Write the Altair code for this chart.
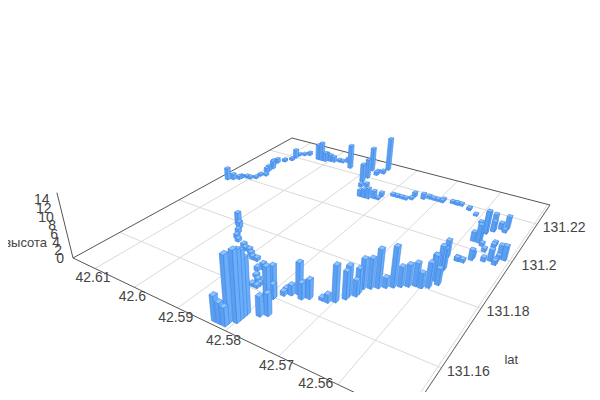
import altair as alt, pandas as pd

# --- values (one per bar) ---
bar_lng = [583,582,581,581,580,580,580,580,578,577,579,579,579,599,598,597,596,595,593,592,591,590,589,588,586,585,586,585,
584,584,583,583,578,578,577,576,575,575,574,572,571,570,569,569,568,568,568,567,566,565,564,563,562,561,560,559,
559,559,559,559,558,560,560,558,558,558,557,556,556,554,553,552,552,552,551,552,557,557,557,556,556,555,554,554,
557,558,556,555,554,554,577,576,575,575,573,572,571,570,569,569,567,566,566,565,563,563,561,559,558,594,596,598,589,
588,588,586,587,586,587,585,584,582,583,581,581,579,578,587,586,614,613,612,612,612,612,611,610,609,609,608,609,
609,609,610,610,609,609,608,608,608,608,607,606,603,602,601,601,600,599,597]
bar_lat = [148,148,148,149,150,151,152,153,154,155,158,160,160,179,178,176,174,173,172,171,171,170,169,169,168,167,166,164,
163,161,161,162,162,163,163,164,164,163,164,165,165,166,168,169,170,171,173,174,175,176,177,178,179,180,180,181,
184,185,187,189,183,187,194,194,194,194,194,196,197,197,198,197,198,200,200,201,204,209,209,211,211,213,212,214,
205,204,203,201,204,205,214,214,215,217,217,218,218,218,218,219,219,219,219,219,218,218,216,213,211,223,226,225,225,
220,217,228,224,225,223,209,209,210,209,212,210,214,214,214,215,197,198,199,200,200,200,201,201,202,204,205,207,
208,210,212,214,216,216,218,218,220,222,223,224,223,223,223,224,224,224,225]
bar_h = [5.9,4.8,4.3,14.9,15.7,15.2,14.6,12.6,4.6,5.1,8.5,7.6,3.3,3.2,1.6,1.1,1.0,.8,.8,.8,.8,.8,.8,.8,.8,.7,1.0,.7,
.7,.7,.7,.7,1.0,1.2,2.4,7.5,3.3,3.8,4.5,.7,1.9,8.5,6.5,7.2,3.8,5.9,7.1,7.1,9.1,2.4,9.5,4.8,5.2,5.5,3.6,5.9,
6.0,4.8,6.7,5.1,3.9,4.2,4.2,.8,.8,.8,.8,2.5,1.3,1.0,2.8,1.0,.8,.8,3.5,2.8,4.5,5.2,5.7,4.4,2.6,1.6,.8,3.2,
2.1,2.3,.8,.8,.8,.8,.6,.6,.6,1.1,1.4,.8,.6,.6,.6,.6,.6,.6,.6,.6,.6,.6,.5,.5,.8,6.5,1.2,.6,6.4,
5.2,4.9,9.0,.9,.9,.9,1.7,2.2,2.0,2.8,1.1,.6,.6,.6,.9,.9,3.2,1.5,.9,.6,.6,.6,.6,.6,.6,.6,.6,1.2,
1.5,2.1,1.5,1.2,.6,.6,.6,.6,2.4,.6,.6,.9,4.3,5.1,2.4,2.1,1.8,1.5,.6]
lng_ticks = ["42.57","42.58","42.59","42.6","42.61"]
lng_last = "42.56"
lat_ticks = ["131.16","131.18","131.2","131.22"]
z_ticks = ["0","2","4","6","8","10","12","14"]
z_name, lat_name = "высота", "lat"
grid_lng = [42.55,42.56,42.57,42.58,42.59,42.60,42.61]
grid_lat = [131.16,131.18,131.20,131.22]

# axis extents
XMIN, XMAX, YMIN, YMAX, ZTOP = 42.5495, 42.616, 131.1466, 131.232, 15.4
# camera (homography of the floor plus a vertical vanishing point)
G, H, A0, A1, A2, B0, B1, B2 = .4128, .6488, -304.87, 498.8, 408, -53.5, -80.0, 418
C, VX, VY = -.00633, 290, 1140
DX, DY = .0004, .0006   # half footprint of a bar

def base(df):
    return (alt.Chart(df).transform_calculate(
        s=f"(datum.lng-({XMIN}))/({XMAX}-({XMIN}))", t=f"(datum.lat-({YMIN}))/({YMAX}-({YMIN}))"
    ).transform_calculate(
        W=f"{G}*datum.s+{H}*datum.t+1+({C})*datum.z"
    ).transform_calculate(
        px=f"(({A0})*datum.s+({A1})*datum.t+({A2})+({C})*datum.z*{VX})/datum.W",
        py=f"(({B0})*datum.s+({B1})*datum.t+({B2})+({C})*datum.z*{VY})/datum.W"))

XS = alt.Scale(domain=[8, 592], range=[0, 584], zero=False, nice=False)
YS = alt.Scale(domain=[8, 392], range=[0, 384], zero=False, nice=False)
PX = alt.X("px:Q", axis=None, scale=XS)
PY = alt.Y("py:Q", axis=None, scale=YS)

# lines
grid_rows = []
for i, v in enumerate(grid_lng):
    grid_rows += [dict(id=f"x{i}", lng=v, lat=YMIN, z=0, i=0), dict(id=f"x{i}", lng=v, lat=YMAX, z=0, i=1)]
for i, v in enumerate(grid_lat):
    grid_rows += [dict(id=f"y{i}", lng=XMIN, lat=v, z=0, i=0), dict(id=f"y{i}", lng=XMAX, lat=v, z=0, i=1)]
grid = base(pd.DataFrame(grid_rows)).mark_line(stroke="#d9d9d9", strokeWidth=1).encode(x=PX, y=PY, detail="id:N", order="i:Q")

corners = [(XMAX, YMIN), (XMIN, YMIN), (XMIN, YMAX), (XMAX, YMAX), (XMAX, YMIN)]
edge_rows = [dict(id="e", lng=a, lat=b, z=0, i=k) for k, (a, b) in enumerate(corners)]
edge_rows += [dict(id="z", lng=XMAX, lat=YMIN, z=0, i=0), dict(id="z", lng=XMAX, lat=YMIN, z=ZTOP, i=1)]
edges = base(pd.DataFrame(edge_rows)).mark_line(stroke="#555555", strokeWidth=1).encode(x=PX, y=PY, detail="id:N", order="i:Q")

# bars: far ones first
def depth(i):
    s = (42 + bar_lng[i] / 1000 - XMIN) / (XMAX - XMIN)
    t = (131 + bar_lat[i] / 1000 - YMIN) / (YMAX - YMIN)
    return G * s + H * t + 1
order = sorted(range(len(bar_h)), key=depth, reverse=True)
LEFT, RIGHT, TOP = "#5b9ff0", "#6aaefa", "#8cc4ff"
rows = []
for rank, k in enumerate(order):
    x, y, h = 42 + bar_lng[k] / 1000, 131 + bar_lat[k] / 1000, bar_h[k]
    L, F, R, B = (x + DX, y - DY), (x - DX, y - DY), (x - DX, y + DY), (x + DX, y + DY)
    faces = [(LEFT, [(L, 0), (F, 0), (F, h), (L, h), (L, 0)]),
             (RIGHT, [(F, 0), (R, 0), (R, h), (F, h), (F, 0)]),
             (TOP, [(L, h), (F, h), (R, h), (B, h), (L, h)])]
    for f, (col, pts) in enumerate(faces):
        for i, ((a, b), z) in enumerate(pts):
            rows.append(dict(id=rank * 3 + f, col=col, lng=a, lat=b, z=z, i=i))
bars = base(pd.DataFrame(rows)).mark_line(stroke="#3f86e6", strokeWidth=0.6, strokeJoin="round").encode(
    x=PX, y=PY, detail="id:Q", order="i:Q", fill=alt.Fill("col:N", scale=None))

# text
TXT = dict(font="Liberation Sans", fontSize=14, color="#444444")
lt = base(pd.DataFrame({"label": lng_ticks, "lng": [float(v) for v in lng_ticks], "lat": YMIN, "z": 0})).mark_text(
    align="center", baseline="middle", dx=-2, dy=10, **TXT).encode(x=PX, y=PY, text="label:N")
lt2 = base(pd.DataFrame({"label": [lng_last], "lng": [float(lng_last)], "lat": [YMIN], "z": [0]})).mark_text(
    align="center", baseline="middle", dx=-22, dy=0, **TXT).encode(x=PX, y=PY, text="label:N")
yt = base(pd.DataFrame({"label": lat_ticks, "lng": XMIN, "lat": [float(v) for v in lat_ticks], "z": 0})).mark_text(
    align="center", baseline="middle", dx=27, dy=4, **TXT).encode(x=PX, y=PY, text="label:N")
zt = base(pd.DataFrame({"label": z_ticks, "lng": XMAX, "lat": YMIN, "z": [float(v) for v in z_ticks]})).mark_text(
    align="right", baseline="middle", dx=-9, dy=1, **TXT).encode(x=PX, y=PY, text="label:N")
zn = base(pd.DataFrame({"label": [z_name], "lng": [XMAX], "lat": [YMIN], "z": [4.0]})).mark_text(
    align="right", baseline="middle", dx=-22, dy=1, font="Liberation Sans", fontSize=13, color="#444444").encode(x=PX, y=PY, text="label:N")
yn = base(pd.DataFrame({"label": [lat_name], "lng": [XMIN], "lat": [131.16], "z": [0]})).mark_text(
    align="center", baseline="middle", dx=70, dy=-8, font="Liberation Sans", fontSize=13, color="#444444").encode(x=PX, y=PY, text="label:N")

chart = alt.layer(grid, edges, bars, lt, lt2, yt, zt, zn, yn).properties(
    width=584, height=384, padding=0, background="white", autosize=alt.AutoSizeParams(type="none")
).configure_view(stroke=None)
chart.save("out.html", embed_options={"renderer": "svg", "actions": False})
